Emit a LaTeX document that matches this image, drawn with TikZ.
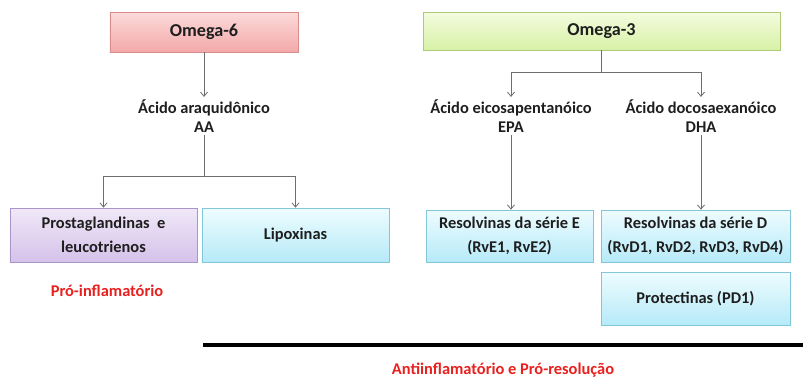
\documentclass[tikz,border=0pt]{standalone}
\usepackage{fontspec}
\setmainfont{Carlito}
\usetikzlibrary{arrows.meta,shadows}
\definecolor{txtgray}{HTML}{1E1E1E}
\definecolor{redlbl}{HTML}{E8201E}
\definecolor{pinkA}{HTML}{FCDADA}
\definecolor{pinkB}{HTML}{F3A9A9}
\definecolor{pinkL}{HTML}{D98C8C}
\definecolor{greenA}{HTML}{F4FCDF}
\definecolor{greenB}{HTML}{D7F1A6}
\definecolor{greenL}{HTML}{AFCB78}
\definecolor{lilaA}{HTML}{F0E8F8}
\definecolor{lilaB}{HTML}{D5C2EA}
\definecolor{lilaL}{HTML}{A995C8}
\definecolor{cyanA}{HTML}{EEFCFF}
\definecolor{cyanB}{HTML}{B6EAF8}
\definecolor{cyanL}{HTML}{84C6D8}
\definecolor{lineg}{HTML}{6E6E6E}
\tikzset{
  box/.style={draw=#1L, line width=0.6pt, top color=#1A, bottom color=#1B,
    drop shadow={shadow xshift=1.2pt, shadow yshift=-1.2pt, opacity=0.25},
    align=center, text=txtgray, font=\bfseries\fontsize{14}{20}\selectfont},
  acid/.style={align=center, text=txtgray, font=\bfseries\fontsize{14}{16.5}\selectfont, inner sep=2pt},
  conn/.style={draw=lineg, line width=0.7pt, -{Straight Barb[length=3.5pt,width=6pt]}},
  plain/.style={draw=lineg, line width=0.7pt},
  redtxt/.style={text=redlbl, font=\bfseries\fontsize{14}{16}\selectfont}
}
\begin{document}
\begin{tikzpicture}[x=0.03cm,y=-0.03cm]
  \useasboundingbox (0,0) rectangle (803,379);
  % omega-6 side
  \node[box=pink, minimum width=5.64cm, minimum height=1.2cm] (om6) at (204,32) {\fontsize{15.5}{18}\selectfont Omega-6};
  \node[acid] (aa) at (204,116) {Ácido araquidônico\\AA};
  \node[box=lila, minimum width=5.61cm, minimum height=1.62cm] (prost) at (103.5,235) {Prostaglandinas\ \ e\\leucotrienos};
  \node[box=cyan, minimum width=5.61cm, minimum height=1.62cm] (lipox) at (295.5,235) {Lipoxinas};
  \node[redtxt] (pro) at (107,291) {Pró-inflamatório};
  \coordinate (split6) at (204,176);
  \draw[conn] (om6) -- (aa);
  \draw[plain] (aa) -- (split6);
  \draw[conn] (split6) -| (prost);
  \draw[conn] (split6) -| (lipox);
  % omega-3 side
  \node[box=green, minimum width=10.71cm, minimum height=1.14cm] (om3) at (601.5,31) {\fontsize{15.5}{18}\selectfont Omega-3};
  \node[acid] (epa) at (511,116) {Ácido eicosapentanóico\\EPA};
  \node[acid] (dha) at (701,116) {Ácido docosaexanóico\\DHA};
  \node[box=cyan, minimum width=5.01cm, minimum height=1.56cm] (rve) at (509.5,236) {Resolvinas da série E\\(RvE1, RvE2)};
  \node[box=cyan, minimum width=5.67cm, minimum height=1.56cm] (rvd) at (695.5,236) {Resolvinas da série D\\(RvD1, RvD2, RvD3, RvD4)};
  \node[box=cyan, minimum width=5.67cm, minimum height=1.59cm] (pd1) at (695.5,298.5) {Protectinas (PD1)};
  \coordinate (split3) at (601.5,72);
  \draw[plain] (om3) -- (split3);
  \draw[conn] (split3) -| (epa);
  \draw[conn] (split3) -| (dha);
  \draw[conn] (epa) -- (epa |- rve.north);
  \draw[conn] (dha) -- (dha |- rvd.north);
  % bottom bar
  \coordinate (barL) at (203,345);
  \coordinate (barR) at (803,345);
  \draw[line width=3.4pt] (barL) -- (barR);
  \node[redtxt] (anti) at (503,370) {Antiinflamatório e Pró-resolução};
\end{tikzpicture}
\end{document}
